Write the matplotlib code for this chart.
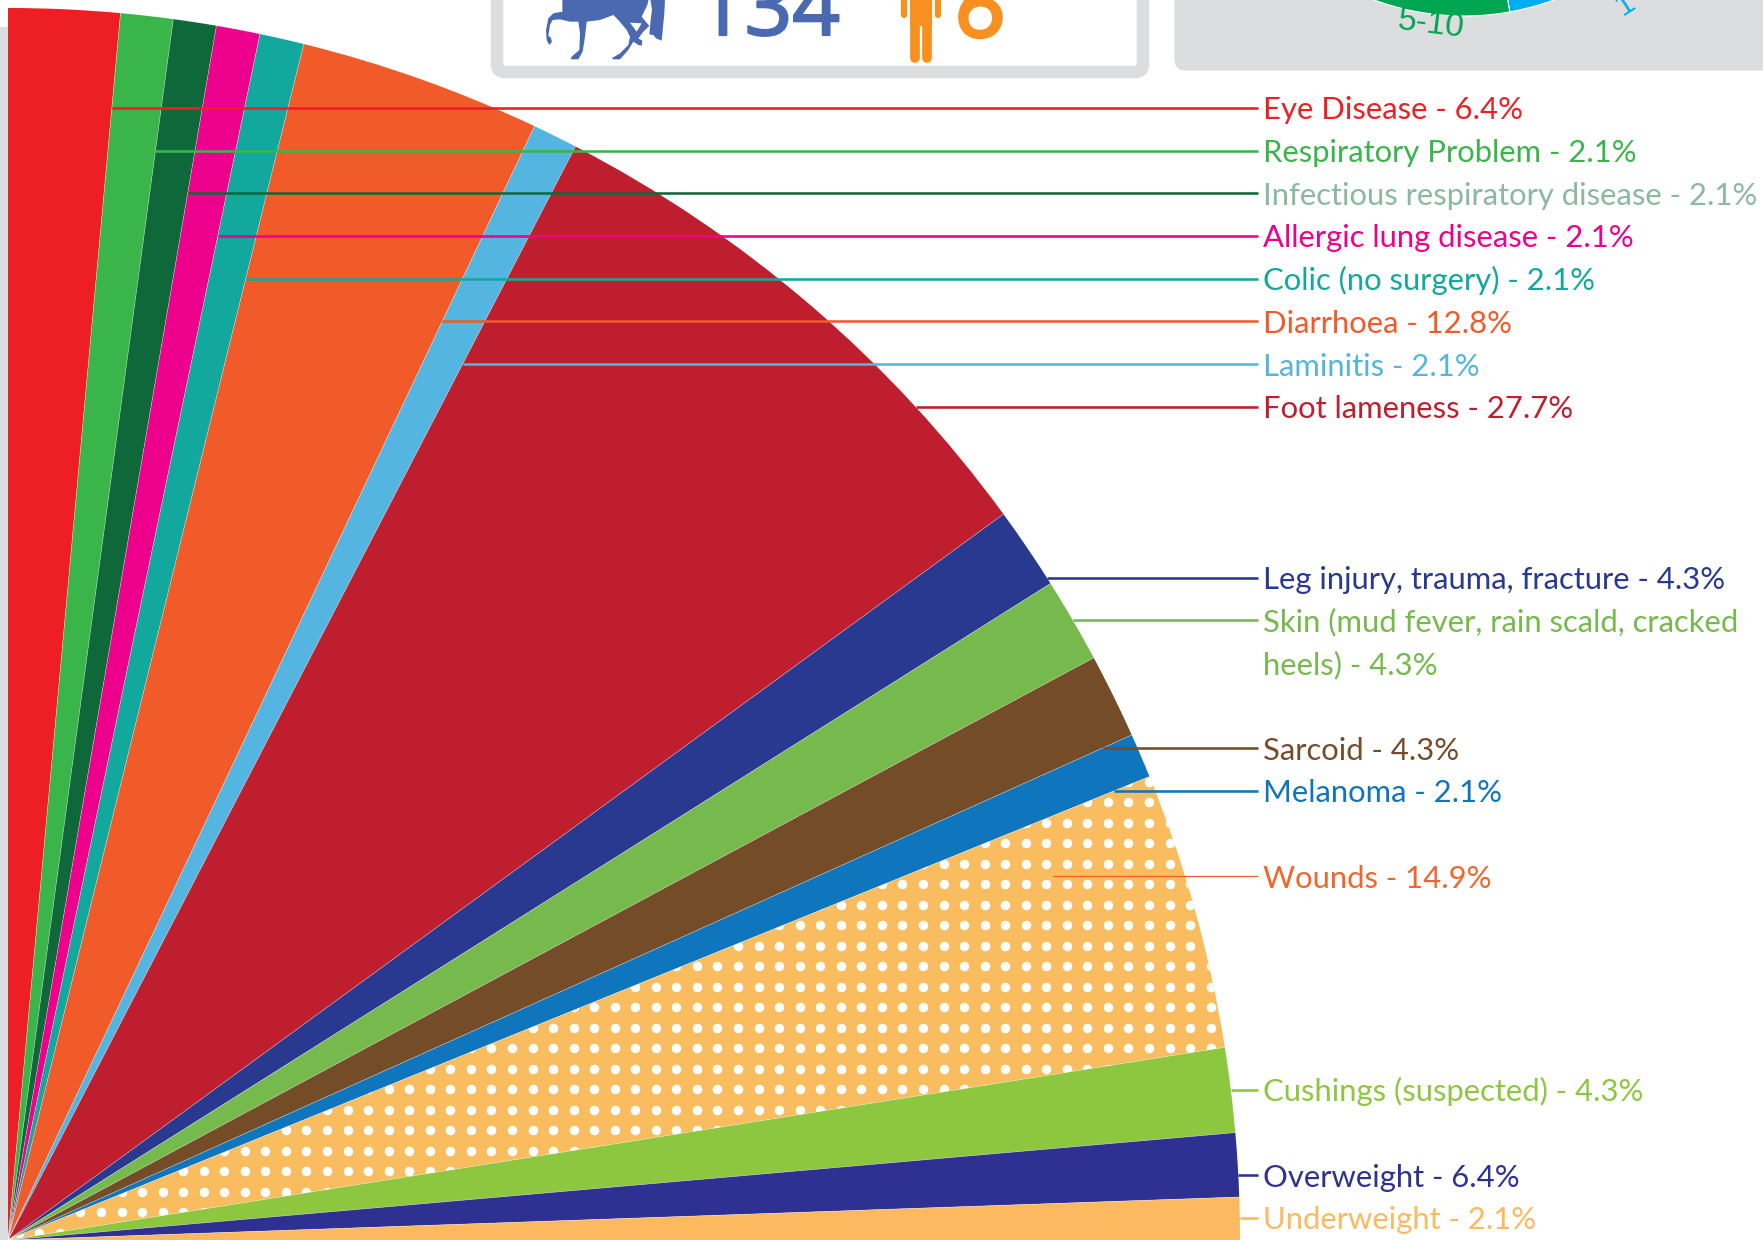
import numpy as np
import matplotlib
matplotlib.use('Agg')
import matplotlib.pyplot as plt
import matplotlib.patheffects as pe
from matplotlib.patches import Wedge, Polygon, Rectangle, FancyBboxPatch

plt.rcParams['font.family'] = ['Lato', 'DejaVu Sans']

# angular width of every slice, degrees
slice_spans = [5.24, 2.47, 2.03, 2.06, 2.09, 11.41, 2.13, 26.47,
               3.9, 4.0, 4.0, 2.1, 13.1, 4.0, 3.0, 2.0]
slice_colors = ['#ED1F24', '#3AB54A', '#0F683A', '#EC008C', '#12A89D', '#F15A29',
                '#53B5E0', '#BE1E2D', '#2A3990', '#76B94C', '#754C28', '#0F75BC',
                '#F9BD5F', '#8DC63F', '#2E3192', '#FDB95F']
labels = ['Eye Disease - 6.4%', 'Respiratory Problem - 2.1%',
          'Infectious respiratory disease - 2.1%', 'Allergic lung disease - 2.1%',
          'Colic (no surgery) - 2.1%', 'Diarrhoea - 12.8%', 'Laminitis - 2.1%',
          'Foot lameness - 27.7%', 'Leg injury, trauma, fracture - 4.3%',
          'Skin (mud fever, rain scald, cracked\nheels) - 4.3%', 'Sarcoid - 4.3%',
          'Melanoma - 2.1%', 'Wounds - 14.9%', 'Cushings (suspected) - 4.3%',
          'Overweight - 6.4%', 'Underweight - 2.1%']
label_colors = ['#ED1F24', '#3AB54A', '#8AB8A0', '#EC008C', '#12A89D', '#F15A29',
                '#53B5E0', '#BE1E2D', '#2A3990', '#76B94C', '#754C28', '#0F75BC',
                '#F0662D', '#8DC63F', '#2E3192', '#FDB95F']
leader_colors = ['#ED1F24', '#3AB54A', '#0F683A', '#EC008C', '#12A89D', '#F15A29',
                 '#53B5E0', '#BE1E2D', '#2A3990', '#76B94C', '#754C28', '#0F75BC',
                 '#F15A29', '#8DC63F', '#2E3192', '#FDB95F']
leader_y = [108, 150.7, 193.3, 236, 278.7, 321.3, 364, 407,
            578, 620, 748, 791, 876, 1090, 1175, 1218]
horse_count = '134'
human_count = '6'
top_pie_spans = [59.85, 70.15]
top_pie_colors = ['#00AEEF', '#00A651']

GRAY = '#DCDDDE'
BLUE = '#4A69B0'
ORANGE = '#F7901E'
cx, cy, R = 8, 1240, 1232
font_px = 31.0

fig = plt.figure(figsize=(17.63, 12.40), dpi=100)
ax = fig.add_axes([0, 0, 1, 1])
ax.set_xlim(0, 1763)
ax.set_ylim(1240, 0)
ax.axis('off')

# gray panels behind and above the fan
ax.add_patch(Rectangle((0, 27), 8, 1213, color=GRAY, lw=0))
ax.add_patch(FancyBboxPatch((1174.5, -40), 640, 110.7, boxstyle='round,pad=0,rounding_size=12',
                            fc=GRAY, ec='none'))
ax.add_patch(FancyBboxPatch((497, -40), 646, 112, boxstyle='round,pad=0,rounding_size=8',
                            fc='white', ec=GRAY, lw=9))

# the fan
edges = np.cumsum([0] + slice_spans)
for i, span in enumerate(slice_spans):
    w = Wedge((cx, cy), R, -90 + edges[i], -90 + edges[i + 1], fc=slice_colors[i], ec='none', lw=0)
    ax.add_patch(w)
    if i == 12:
        wound_wedge = w

# dots in Wounds
dx = np.arange(39.3 - 20.55, 1300, 20.55)
dy = np.arange(781.7 - 20.51, 1250, 20.51)
gx, gy = np.meshgrid(dx, dy)
dots = ax.scatter(gx.ravel(), gy.ravel(), s=47, color='white', lw=0, zorder=3)
dots.set_clip_path(wound_wedge)

# thin pale seams between slices
for a in edges[1:-1]:
    t = np.radians(a)
    ax.plot([cx, cx + R * np.sin(t)], [cy, cy - R * np.cos(t)], color='white', lw=0.4, alpha=0.55, zorder=3)

# leader lines and labels
text_x = 1263
line_end = 1258
for i, y in enumerate(leader_y):
    arc_x = cx + np.sqrt(R ** 2 - (cy - y) ** 2)
    edge_x = cx + (cy - y) * np.tan(np.radians(edges[i + 1]))
    x0 = min(arc_x, edge_x)
    lw = 1.85
    if labels[i].startswith('Wounds'):
        x0 = 1053
        lw = 0.9
    ax.plot([x0, line_end], [y, y], color=leader_colors[i], lw=lw, zorder=4, solid_capstyle='butt')
    parts = labels[i].split('\n')
    for j, part in enumerate(parts):
        ax.text(text_x, y + 11.5 + 43 * j, part, color=label_colors[i], fontsize=font_px * 0.72,
                ha='left', va='baseline', zorder=5)

# horse legs, outline in pixels of the reference
horse = [(97, -3), (97, 35), (70, 40), (55, 55), (48, 90), (50, 120), (58, 135), (66, 125), (62, 112),
         (55, 108), (60, 75), (68, 60), (90, 58), (120, 65), (145, 65), (150, 100), (148, 150),
         (125, 170), (122, 178), (145, 178), (158, 155), (165, 110), (170, 65), (210, 60), (250, 45),
         (265, 60), (290, 90), (300, 110), (295, 135), (270, 160), (245, 175), (250, 178), (270, 178),
         (295, 150), (310, 125), (325, 135), (335, 137), (337, 122), (325, 115), (340, 95), (358, 78),
         (335, 50), (352, 15), (356, -3)]
tail = [(361, -3), (405, -3), (403, 40), (395, 122), (385, 118), (378, 115), (370, 105), (358, 103),
        (362, 60), (366, 30)]
horse_hole = [(300, 68), (335, 70), (320, 95)]
ax.add_patch(Polygon([(530 + x / 3, y / 3) for x, y in horse], fc=BLUE, ec='none'))
ax.add_patch(Polygon([(530 + x / 3, y / 3) for x, y in tail], fc=BLUE, ec='none'))
ax.add_patch(Polygon([(530 + x / 3, y / 3) for x, y in horse_hole], fc='white', ec='none'))
ax.text(697, 35, horse_count, color=BLUE, fontsize=60, ha='left', va='baseline', family=['Open Sans'],
        path_effects=[pe.withStroke(linewidth=1.6, foreground=BLUE)])

# person legs and arms
for x, y1, lw in [(903.7, 15, 4.5), (938, 15, 4.5), (915, 58, 7), (927, 58, 7)]:
    ax.plot([x, x], [-10, y1], color=ORANGE, lw=lw, solid_capstyle='round')
ax.add_patch(Rectangle((910, 0), 22, 26, color=ORANGE, lw=0))
ax.text(955, 37, human_count, color=ORANGE, fontsize=62, ha='left', va='baseline',
        path_effects=[pe.withStroke(linewidth=2.2, foreground=ORANGE)])

# bottom of the small pie on the gray panel
px, py, pr = 1464, -244, 260
start = 20
for span, c in zip(top_pie_spans, top_pie_colors):
    ax.add_patch(Wedge((px, py), pr, start, start + span, fc=c, ec='white', lw=0.8))
    start += span
ax.text(1430, 33, '5-10', color='#00A651', fontsize=24, rotation=-7, ha='center', va='baseline',
        family=['Liberation Sans'], rotation_mode='anchor')
ax.text(1630, 11, '1', color='#00AEEF', fontsize=22, rotation=33, ha='center', va='baseline',
        family=['Liberation Sans'], rotation_mode='anchor')

fig.savefig('out.png', dpi=100)
